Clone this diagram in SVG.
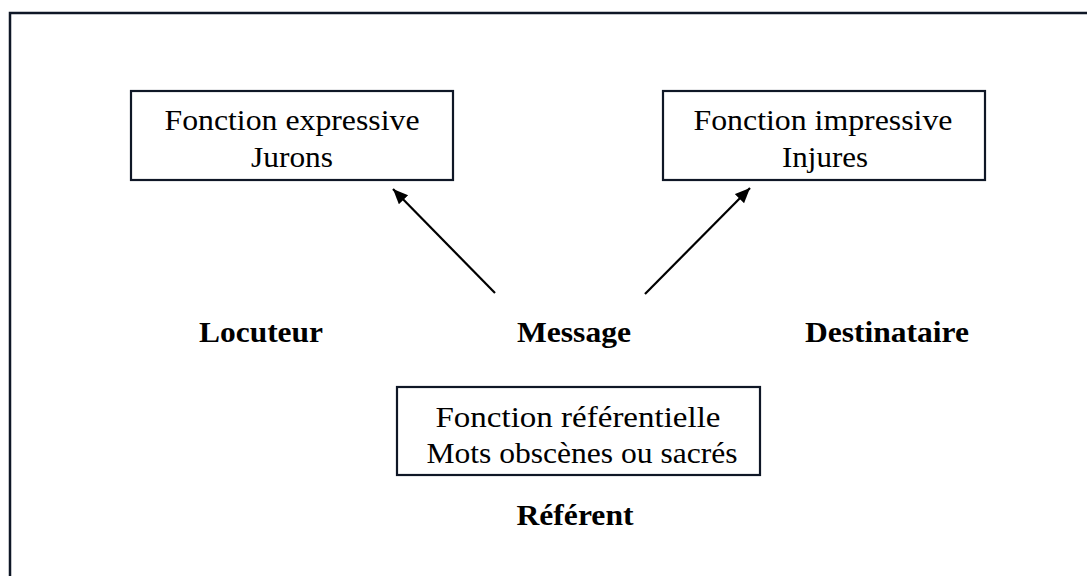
<svg xmlns="http://www.w3.org/2000/svg" width="1087" height="576" viewBox="0 0 1087 576">
<style>
.frame{fill:none;stroke:#0f1726;stroke-width:2.5}
.box{fill:#fff;stroke:#0f1726;stroke-width:2.2}
.t{font-family:"Liberation Serif","Times New Roman",Times,serif;font-size:30px;fill:#000;text-anchor:middle}
.b{font-weight:bold}
.arr{stroke:#000;stroke-width:2.2;fill:none;marker-end:url(#ah)}
</style>
<defs>
<marker id="ah" markerUnits="userSpaceOnUse" markerWidth="16" markerHeight="14" refX="15" refY="6.5" orient="auto">
<path d="M0,0 L15,6.5 L0,13 z" fill="#000"/>
</marker>
</defs>
<rect width="1087" height="576" fill="#fff"/>
<path class="frame" d="M10,580 V13 H1092"/>
<g id="expressive">
<rect class="box" x="131" y="91" width="322" height="89"/>
<text class="t" x="292" y="130" textLength="255" lengthAdjust="spacingAndGlyphs">Fonction expressive</text>
<text class="t" x="292" y="167" textLength="82" lengthAdjust="spacingAndGlyphs">Jurons</text>
</g>
<g id="impressive">
<rect class="box" x="663" y="91" width="322" height="89"/>
<text class="t" x="823" y="130" textLength="259" lengthAdjust="spacingAndGlyphs">Fonction impressive</text>
<text class="t" x="825" y="167" textLength="86" lengthAdjust="spacingAndGlyphs">Injures</text>
</g>
<g id="referentielle">
<rect class="box" x="397" y="387" width="363" height="88"/>
<text class="t" x="578" y="427" textLength="285" lengthAdjust="spacingAndGlyphs">Fonction référentielle</text>
<text class="t" x="582" y="463" textLength="311" lengthAdjust="spacingAndGlyphs">Mots obscènes ou sacrés</text>
</g>
<g id="locuteur"><text class="t b" x="261" y="342" textLength="124" lengthAdjust="spacingAndGlyphs">Locuteur</text></g>
<g id="message"><text class="t b" x="574" y="342" textLength="114" lengthAdjust="spacingAndGlyphs">Message</text></g>
<g id="destinataire"><text class="t b" x="887" y="342" textLength="164" lengthAdjust="spacingAndGlyphs">Destinataire</text></g>
<g id="referent"><text class="t b" x="575" y="525" textLength="117" lengthAdjust="spacingAndGlyphs">Référent</text></g>
<g id="connectors">
<line class="arr" x1="495" y1="293" x2="393" y2="189"/>
<line class="arr" x1="645" y1="294" x2="750" y2="188"/>
</g>
</svg>
